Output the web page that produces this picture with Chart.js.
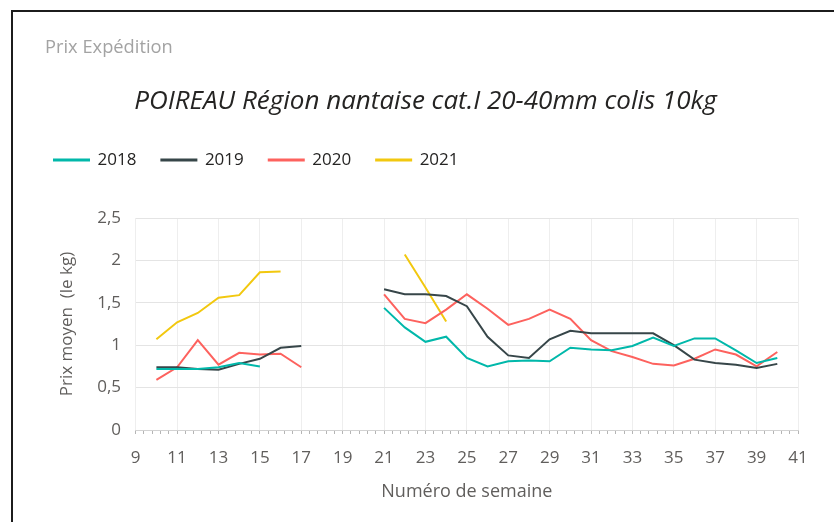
<!DOCTYPE html>
<html>
<head>
<meta charset="utf-8">
<script src="https://cdn.jsdelivr.net/npm/chart.js@4.4.1/dist/chart.umd.min.js"></script>
<style>
  html, body { margin: 0; padding: 0; background: #ffffff; overflow: hidden; }
  #wrap { position: relative; width: 834px; height: 522px; }
  #c { position: absolute; left: 0; top: 0; }
  #frameLeft { position: absolute; left: 11px; top: 10px; width: 2px; height: 512px; background: #1c1c1c; }
  #frameTop { position: absolute; left: 11px; top: 10px; width: 823px; height: 2px; background: #1c1c1c; }
  #cardTitle { position: absolute; left: 45px; top: 33px; font-family: "Open Sans", sans-serif; font-size: 18.3px; line-height: 26px; color: #a3a3a3; white-space: nowrap; }
</style>
</head>
<body>
<div id="wrap">
  <canvas id="c" width="834" height="522"></canvas>
  <div id="cardTitle">Prix Expédition</div>
  <div id="frameLeft"></div>
  <div id="frameTop"></div>
</div>
<script>
const chartTitle = "POIREAU Région nantaise cat.I 20-40mm colis 10kg";
const xTitle = "Numéro de semaine";
const yTitle = "Prix moyen  (le kg)";
const seriesNames = ["2018", "2019", "2020", "2021"];
const seriesColors = ["#01B8AA", "#374649", "#FD625E", "#F2C80F"];

const weeks = [10,11,12,13,14,15,16,17,18,19,20,21,22,23,24,25,26,27,28,29,30,31,32,33,34,35,36,37,38,39,40];
const prix2018 = [0.72,0.72,0.72,0.74,0.79,0.75,null,null,null,null,null,1.44,1.21,1.04,1.10,0.85,0.75,0.81,0.82,0.81,0.97,0.95,0.94,0.99,1.09,0.99,1.08,1.08,0.94,0.79,0.85];
const prix2019 = [0.74,0.74,0.72,0.71,0.78,0.84,0.97,0.99,null,null,null,1.66,1.60,1.60,1.58,1.46,1.10,0.88,0.85,1.07,1.17,1.14,1.14,1.14,1.14,1.00,0.83,0.79,0.77,0.73,0.78];
const prix2020 = [0.59,0.74,1.06,0.77,0.91,0.89,0.90,0.74,null,null,null,1.60,1.31,1.26,1.42,1.60,1.43,1.24,1.31,1.42,1.31,1.06,0.93,0.86,0.78,0.76,0.84,0.95,0.89,0.75,0.92];
const prix2021 = [1.07,1.27,1.38,1.56,1.59,1.86,1.87,null,null,null,null,null,2.07,1.68,1.28,null,null,null,null,null,null,null,null,null,null,null,null,null,null,null,null];

const xMin = 9, xMax = 41, xStep = 2, xMinorStep = 0.4;
const yMin = 0, yMax = 2.5, yStep = 0.5;

const allSeries = [prix2018, prix2019, prix2020, prix2021];
const datasets = allSeries.map((vals, k) => ({
  label: seriesNames[k],
  data: weeks.map((w, i) => ({ x: w, y: vals[i] })),
  borderColor: seriesColors[k],
  backgroundColor: seriesColors[k],
  borderWidth: 2,
  pointRadius: 0,
  pointHoverRadius: 0,
  tension: 0,
  spanGaps: false,
  xAxisID: 'x',
  yAxisID: 'y'
}));

const FONT = '"Open Sans", sans-serif';
const tickColor = '#605E5C';

new Chart(document.getElementById('c'), {
  type: 'line',
  data: { datasets },
  options: {
    responsive: false,
    animation: false,
    devicePixelRatio: 1,
    layout: { padding: { left: 29, right: 12, top: 0, bottom: 0 } },
    plugins: {
      title: {
        display: true,
        text: chartTitle,
        color: '#252423',
        font: { family: FONT, size: 26, style: 'italic', weight: 'normal' },
        padding: { top: 86.4, bottom: 8.9 }
      },
      subtitle: {
        display: true,
        text: '',
        weight: 500,
        font: { family: FONT, size: 10 },
        padding: { top: 27.5, bottom: 0 }
      },
      legend: {
        display: true,
        position: 'top',
        align: 'start',
        labels: {
          font: { family: FONT, size: 17 },
          color: '#252423',
          boxWidth: 35,
          boxHeight: 1,
          padding: 25
        }
      },
      tooltip: { enabled: false }
    },
    scales: {
      x: {
        type: 'linear',
        position: 'bottom',
        weight: 1,
        min: xMin, max: xMax,
        ticks: {
          stepSize: xStep,
          color: tickColor,
          font: { family: FONT, size: 17 },
          padding: 13.8,
          maxRotation: 0,
          autoSkip: false
        },
        grid: { color: '#eeeeee', lineWidth: 1, drawTicks: false },
        border: { display: false },
        title: {
          display: true,
          text: xTitle,
          color: tickColor,
          font: { family: FONT, size: 18 },
          padding: { top: 0, bottom: 19.2 }
        },
        afterFit: (s) => { s.height = 88; }
      },
      xMinor: {
        type: 'linear',
        position: 'bottom',
        weight: 0,
        min: xMin, max: xMax,
        ticks: { display: false, stepSize: xMinorStep, maxTicksLimit: 200, autoSkip: false },
        grid: { display: true, drawOnChartArea: false, drawTicks: true, tickLength: 4, color: '#b5b5b5', lineWidth: 1 },
        border: { display: true, color: '#d2d2d2' },
        afterFit: (s) => { s.height = 4; }
      },
      y: {
        type: 'linear',
        position: 'left',
        min: yMin, max: yMax,
        ticks: {
          stepSize: yStep,
          color: tickColor,
          font: { family: FONT, size: 17 },
          padding: 14.7,
          callback: (v) => String(v).replace('.', ',')
        },
        grid: { color: '#e4e4e4', lineWidth: 1, drawTicks: false },
        border: { display: false },
        title: {
          display: true,
          text: yTitle,
          color: tickColor,
          font: { family: FONT, size: 17 },
          padding: { top: 27.8, bottom: 0 }
        },
        afterFit: (s) => { s.width = 106.7; }
      },
      yPad: {
        type: 'linear',
        position: 'right',
        display: true,
        ticks: { display: false },
        grid: { drawOnChartArea: false, drawTicks: false },
        border: { display: false },
        afterFit: (s) => { s.width = 24; }
      }
    }
  }
});
</script>
</body>
</html>
